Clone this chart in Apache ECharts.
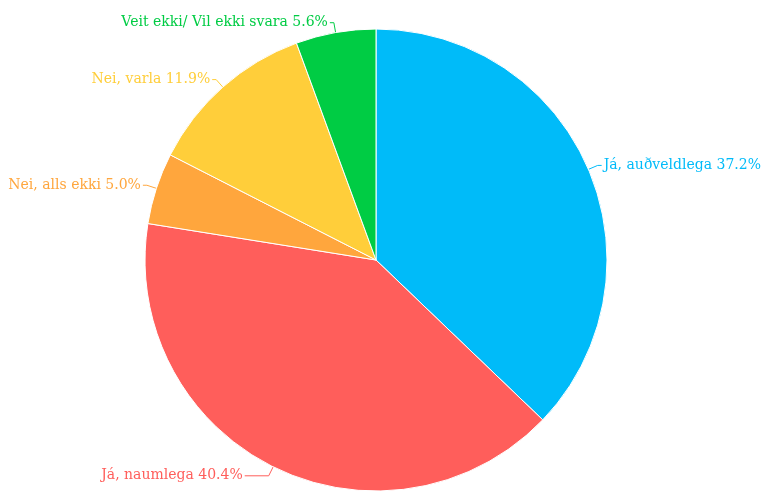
<!DOCTYPE html>
<html>
<head>
<meta charset="utf-8">
<script src="https://cdn.jsdelivr.net/npm/echarts@6/dist/echarts.min.js"></script>
<style>
html, body { margin: 0; padding: 0; background: #fff; }
#chart { width: 772px; height: 493px; }
</style>
</head>
<body>
<div id="chart"></div>
<script>
var categories = ['Já, auðveldlega', 'Já, naumlega', 'Nei, alls ekki', 'Nei, varla', 'Veit ekki/ Vil ekki svara'];
var values = [37.2, 40.4, 5.0, 11.9, 5.6];
var colors = ['#00BBF9', '#FF5E5B', '#FFA63D', '#FFCE3A', '#00CC44'];

var data = categories.map(function (name, i) {
    return {
        name: name,
        value: values[i],
        itemStyle: { color: colors[i] },
        label: { color: colors[i] },
        labelLine: { lineStyle: { color: colors[i] } }
    };
});
// the big red slice has a longer leader line
data[1].labelLine.length2 = 24;

var myChart = echarts.init(document.getElementById('chart'));
myChart.setOption({
    animation: false,
    series: [{
        type: 'pie',
        center: [376, 260],
        radius: [0, 231],
        startAngle: 90,
        clockwise: true,
        data: data,
        itemStyle: { borderColor: '#fff', borderWidth: 1 },
        label: {
            show: true,
            position: 'outside',
            fontFamily: 'DejaVu Serif',
            fontSize: 14,
            overflow: 'none',
            distanceToLabelLine: 2,
            formatter: function (p) {
                return p.name + ' ' + p.value.toFixed(1) + '%';
            }
        },
        labelLine: { show: true, length: 10, length2: 4, lineStyle: { width: 1 } }
    }]
});
</script>
</body>
</html>
